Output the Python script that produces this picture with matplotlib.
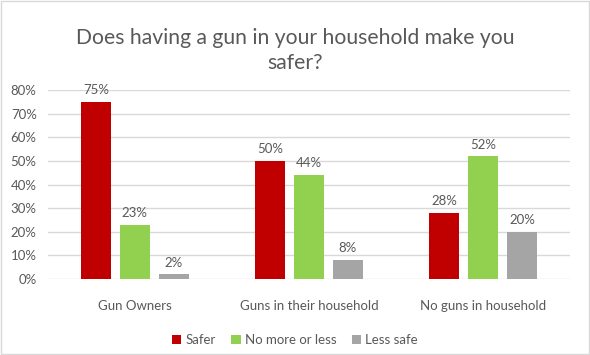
import matplotlib.pyplot as plt
import numpy as np

categories = ["Gun Owners", "Guns in their household", "No guns in household"]
series_names = ["Safer", "No more or less", "Less safe"]
safer = [75, 50, 28]
no_more_or_less = [23, 44, 52]
less_safe = [2, 8, 20]
y_ticks = [0, 10, 20, 30, 40, 50, 60, 70, 80]

colors = ["#C00000", "#92D050", "#A5A5A5"]
text_color = "#595959"

plt.rcParams['font.family'] = ['Lato', 'DejaVu Sans']

fig = plt.figure(figsize=(5.9, 3.55), dpi=100)
ax = fig.add_axes([0.081, 0.214, 0.885, 0.532])

x = np.arange(len(categories))
width = 0.172
step = 0.224
all_series = [safer, no_more_or_less, less_safe]
for i, (vals, name) in enumerate(zip(all_series, series_names)):
    pos = x + (i - 1) * step
    bars = ax.bar(pos, vals, width, color=colors[i], label=name, zorder=3)
    for b, v in zip(bars, vals):
        ax.text(b.get_x() + b.get_width() / 2, v + 2.4, f"{v}%",
                ha="center", va="bottom", fontsize=9.5, color=text_color)

ax.set_xlim(-0.5, 2.5)
ax.set_ylim(0, 80)
ax.set_yticks(y_ticks)
ax.set_yticklabels([f"{t}%" for t in y_ticks])
ax.set_xticks(x)
ax.set_xticklabels(categories)
ax.tick_params(axis="both", length=0, colors=text_color, labelsize=9.5)
ax.tick_params(axis="x", pad=15)
ax.tick_params(axis="y", pad=8)
ax.grid(axis="y", color="#D9D9D9", linewidth=1, zorder=0)
for s in ax.spines.values():
    s.set_visible(False)

fig.text(0.5, 0.858, "Does having a gun in your household make you\nsafer?",
         ha="center", va="center", fontsize=15.2, color=text_color,
         linespacing=1.3)

fig.legend(loc="center", bbox_to_anchor=(0.5, 0.042), ncol=3, frameon=False,
           fontsize=9.5, labelcolor=text_color, handlelength=0.7,
           handleheight=0.7, handletextpad=0.3, columnspacing=1.2)

fig.add_artist(plt.Rectangle((0.001, 0.002), 0.997, 0.995, transform=fig.transFigure,
                             fill=False, edgecolor="#D9D9D9", linewidth=1))

fig.savefig("out.png", dpi=100)
